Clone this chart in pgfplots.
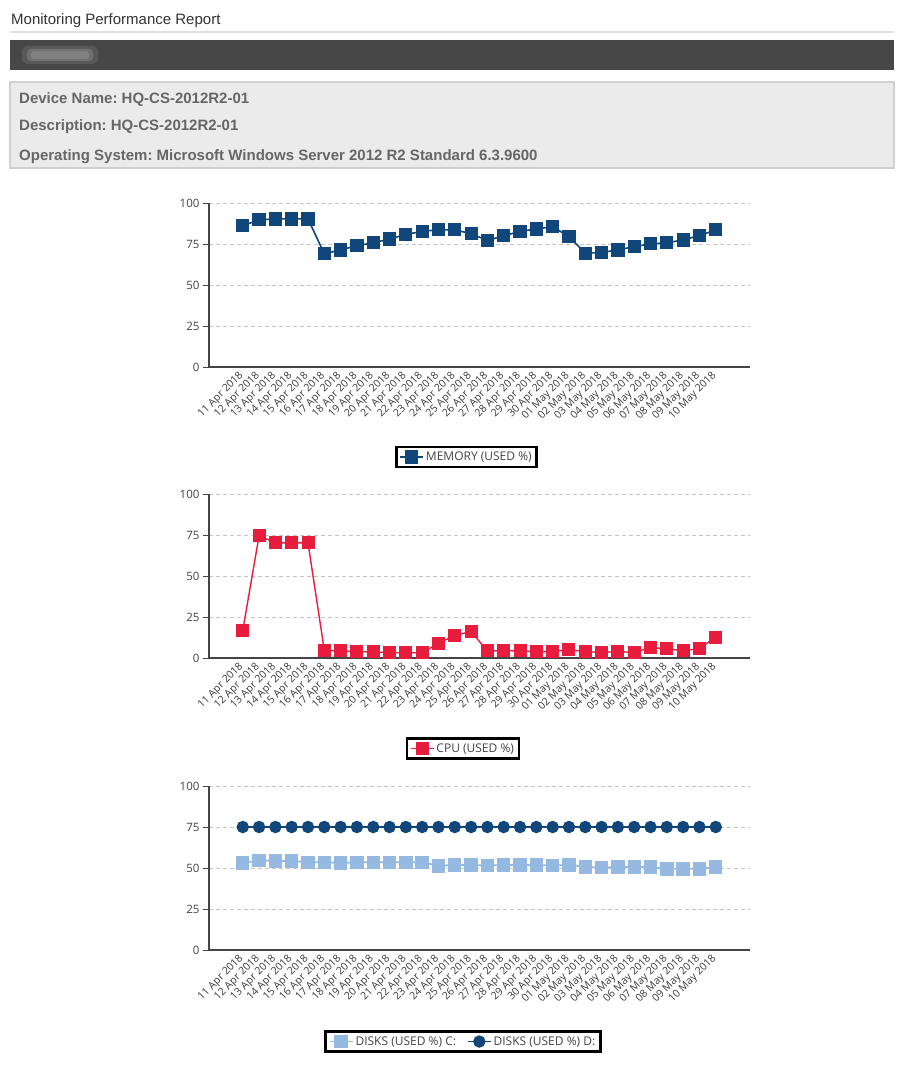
\documentclass[border=0pt]{standalone}
\usepackage{pgfplots}
\pgfplotsset{compat=1.18}
\usepackage{fontspec}
\setmainfont{Liberation Sans}
\newfontfamily\chartfont{Open Sans}
\frenchspacing

\definecolor{memblue}{HTML}{10467A}
\definecolor{cpured}{HTML}{E81C3C}
\definecolor{diskc}{HTML}{96B9E1}
\definecolor{axisgrey}{HTML}{444444}
\definecolor{labelgrey}{HTML}{3A3A3A}
\definecolor{gridgrey}{HTML}{C4C4C4}
\definecolor{barbg}{HTML}{474747}
\definecolor{infobg}{HTML}{EBEBEB}
\definecolor{infoline}{HTML}{D0D0D0}
\definecolor{infotext}{HTML}{666666}
\definecolor{titletext}{HTML}{333333}

\pgfplotsset{
  report chart/.style={
    scale only axis, width=541pt, height=164pt, anchor=south west,
    xmin=-2.07, xmax=31.1, ymin=0, ymax=100,
    axis lines=left, axis line style={-, draw=axisgrey, line width=2pt},
    ytick={0,25,50,75,100}, ymajorgrids,
    major grid style={draw=gridgrey, dash pattern=on 4pt off 3pt, line width=0.8pt},
    xtick={0,...,29},
    xticklabels={11 Apr 2018,12 Apr 2018,13 Apr 2018,14 Apr 2018,15 Apr 2018,
      16 Apr 2018,17 Apr 2018,18 Apr 2018,19 Apr 2018,20 Apr 2018,21 Apr 2018,
      22 Apr 2018,23 Apr 2018,24 Apr 2018,25 Apr 2018,26 Apr 2018,27 Apr 2018,
      28 Apr 2018,29 Apr 2018,30 Apr 2018,01 May 2018,02 May 2018,03 May 2018,
      04 May 2018,05 May 2018,06 May 2018,07 May 2018,08 May 2018,09 May 2018,
      10 May 2018},
    tick align=outside, major tick length=6pt,
    ytick style={draw=axisgrey, line width=1pt},
    xtick style={draw=none},
    /pgf/number format/assume math mode=true,
    yticklabel style={font=\chartfont\fontsize{11.5}{11.5}\selectfont, text=axisgrey},
    xticklabel style={font=\chartfont\fontsize{10.5}{10.5}\selectfont, text=labelgrey,
      rotate=45, anchor=east, xshift=2pt},
    legend style={draw=black, line width=2.5pt, anchor=center,
      font=\chartfont\fontsize{12}{12}\selectfont, text=axisgrey,
      inner xsep=3pt, inner ysep=3pt},
    legend cell align=left,
    legend image code/.code={
      \draw[mark repeat=2, mark phase=2] plot coordinates {(0pt,0pt) (11.5pt,0pt) (23pt,0pt)};},
    clip=false,
  }
}

\begin{document}
\begin{tikzpicture}
\useasboundingbox (0,0) rectangle (904pt,-1070pt);
\fill[white] (0,0) rectangle (904pt,-1070pt);

% page header
\node[anchor=base west, inner sep=0pt, font=\fontsize{15}{15}\selectfont, text=titletext]
  at (11pt,-25pt) {Monitoring Performance Report};
\draw[line width=2pt, draw=gray!25] (10pt,-32pt) -- (894pt,-32pt);
\fill[barbg] (10pt,-40pt) rectangle (894pt,-70pt);
\fill[white, opacity=0.10, rounded corners=6pt] (22pt,-46pt) rectangle (98pt,-64pt);
\fill[white, opacity=0.14, rounded corners=4pt] (27pt,-49pt) rectangle (93pt,-61pt);
\fill[white, opacity=0.12, rounded corners=3pt] (31pt,-51pt) rectangle (89pt,-59pt);
\draw[line width=2pt, draw=infoline, fill=infobg] (10pt,-82pt) rectangle (894pt,-168pt);
\begin{scope}[every node/.style={anchor=base west, inner sep=0pt,
    font=\bfseries\fontsize{15}{15}\selectfont, text=infotext}]
  \node at (19pt,-103pt) {Device Name: HQ-CS-2012R2-01};
  \node at (19pt,-131pt) {Description: HQ-CS-2012R2-01};
  \node at (19pt,-160pt) {Operating System: Microsoft Windows Server 2012 R2 Standard 6.3.9600};
\end{scope}

% memory
\begin{axis}[report chart, at={(209pt,-367pt)},
    legend style={at={(0.476,-0.549)}}]
  \addplot[memblue, line width=1.6pt, mark=square*, mark size=5.8pt,
    mark options={solid}] coordinates {
    (0,86.2) (1,89.7) (2,90.3) (3,90.3) (4,90.3) (5,69.0) (6,71.4) (7,74.0)
    (8,75.7) (9,78.1) (10,80.7) (11,82.8) (12,83.6) (13,83.6) (14,81.3)
    (15,77.1) (16,80.1) (17,82.6) (18,84.2) (19,85.6) (20,79.5) (21,69.4)
    (22,69.8) (23,71.4) (24,73.4) (25,75.1) (26,75.7) (27,77.5) (28,80.1)
    (29,83.6)};
  \legend{MEMORY (USED \%)\hspace{8pt}}
\end{axis}

% cpu
\begin{axis}[report chart, at={(209pt,-658pt)},
    legend style={at={(0.4695,-0.552)}}]
  \addplot[cpured, line width=1.4pt, mark=square*, mark size=5.8pt,
    mark options={solid}] coordinates {
    (0,16.8) (1,74.6) (2,70.2) (3,70.2) (4,70.2) (5,4.7) (6,4.3) (7,3.9)
    (8,3.7) (9,3.2) (10,3.2) (11,3.2) (12,8.9) (13,13.8) (14,16.1)
    (15,4.3) (16,4.5) (17,4.3) (18,3.9) (19,3.9) (20,5.1) (21,3.9)
    (22,3.4) (23,3.9) (24,3.4) (25,6.3) (26,5.7) (27,4.5) (28,5.7)
    (29,12.8)};
  \legend{CPU (USED \%)\hspace{3pt}}
\end{axis}

% disks
\begin{axis}[report chart, at={(209pt,-950pt)},
    legend style={at={(0.4695,-0.558)}}, legend columns=2,
    legend style={/tikz/every even column/.append style={column sep=9pt}}]
  \addplot[diskc, line width=1.8pt, mark=square*, mark size=5.8pt,
    mark options={solid}] coordinates {
    (0,53.1) (1,54.7) (2,54.3) (3,54.3) (4,53.5) (5,53.5) (6,53.1) (7,53.5)
    (8,53.5) (9,53.5) (10,53.5) (11,53.5) (12,51.3) (13,51.9) (14,51.9)
    (15,51.5) (16,51.9) (17,51.9) (18,51.9) (19,51.5) (20,51.9) (21,50.7)
    (22,50.3) (23,50.7) (24,50.7) (25,50.7) (26,49.5) (27,49.5) (28,49.5)
    (29,50.7)};
  \addplot[memblue, line width=1.6pt, mark=*, mark size=5.4pt,
    mark options={solid}] coordinates {
    (0,75) (1,75) (2,75) (3,75) (4,75) (5,75) (6,75) (7,75)
    (8,75) (9,75) (10,75) (11,75) (12,75) (13,75) (14,75)
    (15,75) (16,75) (17,75) (18,75) (19,75) (20,75) (21,75)
    (22,75) (23,75) (24,75) (25,75) (26,75) (27,75) (28,75)
    (29,75)};
  \legend{DISKS (USED \%) C:, DISKS (USED \%) D:}
\end{axis}
\end{tikzpicture}
\end{document}
